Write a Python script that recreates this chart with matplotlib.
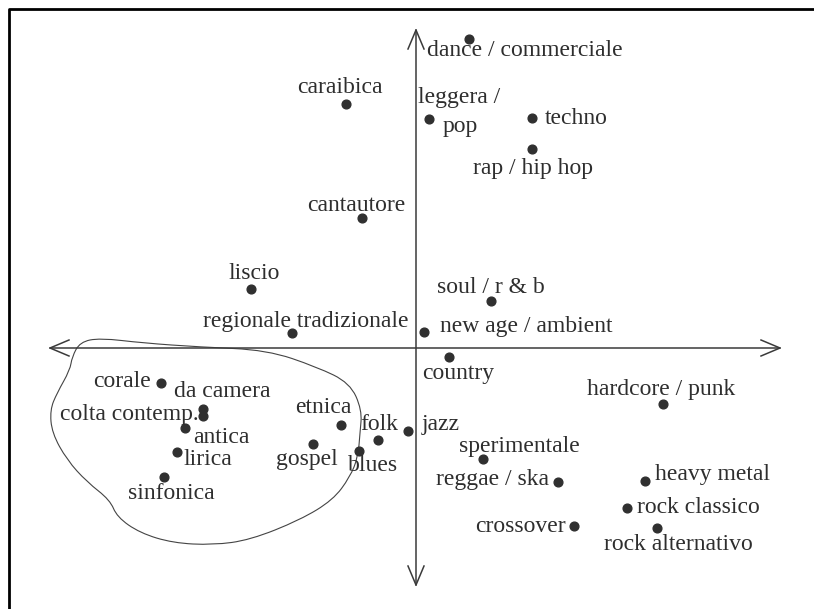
import numpy as np
import matplotlib
matplotlib.use("Agg")
import matplotlib.pyplot as plt
from matplotlib.path import Path
from matplotlib.patches import PathPatch

# ---- data: coordinates on the two principal dimensions ----
genres = ["dance / commerciale", "caraibica", "leggera /\npop", "techno", "rap / hip hop",
          "cantautore", "liscio", "soul / r & b", "regionale tradizionale",
          "new age / ambient", "country", "corale", "da camera", "colta contemp.",
          "antica", "lirica", "sinfonica", "etnica", "gospel", "folk", "blues", "jazz",
          "sperimentale", "reggae / ska", "hardcore / punk", "heavy metal",
          "rock classico", "crossover", "rock alternativo"]
dim1 = [0.53, -0.70, 0.13, 1.16, 1.16,
        -0.54, -1.65, 0.75, -1.24,
        0.08, 0.33, -2.55, -2.13, -2.13,
        -2.31, -2.39, -2.52, -0.75, -1.03, -0.38, -0.57, -0.08,
        0.67, 1.42, 2.47, 2.29,
        2.11, 1.58, 2.41]
dim2 = [3.09, 2.44, 2.29, 2.30, 1.99,
        1.30, 0.59, 0.47, 0.15,
        0.16, -0.09, -0.35, -0.61, -0.68,
        -0.80, -1.04, -1.29, -0.77, -0.96, -0.92, -1.03, -0.83,
        -1.11, -1.34, -0.56, -1.33,
        -1.60, -1.78, -1.80]

# hand-drawn outline around the "classical" cluster
cluster_x = [-3.36, -3.16, -2.73, -2.16, -1.49, -0.99, -0.66, -0.54, -0.56, -0.58,
             -0.66, -0.83, -1.16, -1.66, -2.03, -2.43, -2.76, -2.99, -3.06, -3.29,
             -3.49, -3.64, -3.66, -3.59, -3.46, -3.44]
cluster_y = [0.06, 0.10, 0.05, 0.01, -0.02, -0.19, -0.35, -0.62, -0.85, -1.09,
             -1.29, -1.52, -1.72, -1.92, -1.97, -1.95, -1.85, -1.69, -1.52, -1.34,
             -1.12, -0.85, -0.62, -0.45, -0.22, -0.09]

# ---- layout: label offsets (pixels, x right / y down to baseline) ----
label_off = [(-42, 17), (-49, -11), (-11, -16), (13, 6), (-59, 25),
             (-55, -7), (-23, -10), (-54, -8), (-89, -6),
             (16, 0), (-27, 22), (-68, 4), (-29, -12), (-143, 4),
             (8, 15), (6, 13), (-36, 22), (-46, -12), (-37, 21), (-18, -10), (-11, 20), (14, -1),
             (-24, -7), (-122, 3), (-76, -9), (10, -1),
             (10, 5), (-99, 6), (-53, 22)]

DPI = 100
fig = plt.figure(figsize=(8.14, 6.09), dpi=DPI)
ax = fig.add_axes([0, 0, 1, 1])
ax.set_xlim(-4.16, 3.98)
ax.set_ylim(-2.61, 3.48)
ax.axis("off")

ink = "#2e2e2e"
font = dict(family=["Liberation Serif", "DejaVu Serif"], size=17, color=ink)

# frame (top and left only, as in the scan)
ax.plot([-4.075, -4.075, 4.2], [-2.7, 3.39, 3.39], color="black", lw=2.0,
        solid_capstyle="projecting", clip_on=False)

# axes arrows
axc = "#3a3a3a"
ax.plot([-3.66, 3.64], [0, 0], color=axc, lw=1.1)
ax.plot([0, 0], [-2.37, 3.18], color=axc, lw=1.1)
hl, hw = 0.19, 0.08
ax.plot([-3.66 + hl, -3.66, -3.66 + hl], [hw, 0, -hw], color=axc, lw=1.1)
ax.plot([3.64 - hl, 3.64, 3.64 - hl], [hw, 0, -hw], color=axc, lw=1.1)
ax.plot([-hw, 0, hw], [3.18 - hl, 3.18, 3.18 - hl], color=axc, lw=1.1)
ax.plot([-hw, 0, hw], [-2.37 + hl, -2.37, -2.37 + hl], color=axc, lw=1.1)

# cluster outline (closed quadratic B-spline through the traced points)
P = np.column_stack([cluster_x, cluster_y])
n = len(P)
mids = (P + np.roll(P, -1, axis=0)) / 2
verts = [mids[-1]]
codes = [Path.MOVETO]
for i in range(n):
    verts += [P[i], mids[i]]
    codes += [Path.CURVE3, Path.CURVE3]
ax.add_patch(PathPatch(Path(verts, codes), facecolor="none", edgecolor="#444444", lw=0.8))

# points
ax.plot(dim1, dim2, "o", color="#303030", markersize=6.3, linestyle="none")

# labels
for name, x, y, (dx, dy) in zip(genres, dim1, dim2, label_off):
    if "\n" in name:
        first, second = name.split("\n")
        ax.annotate(first, (x, y), xytext=(dx, -dy), textcoords="offset pixels",
                    ha="left", va="baseline", **font)
        ax.annotate(second, (x, y), xytext=(dx + 25, -dy - 29), textcoords="offset pixels",
                    ha="left", va="baseline", **font)
    else:
        ax.annotate(name, (x, y), xytext=(dx, -dy), textcoords="offset pixels",
                    ha="left", va="baseline", **font)

fig.savefig("out.png", dpi=DPI, facecolor="white")
